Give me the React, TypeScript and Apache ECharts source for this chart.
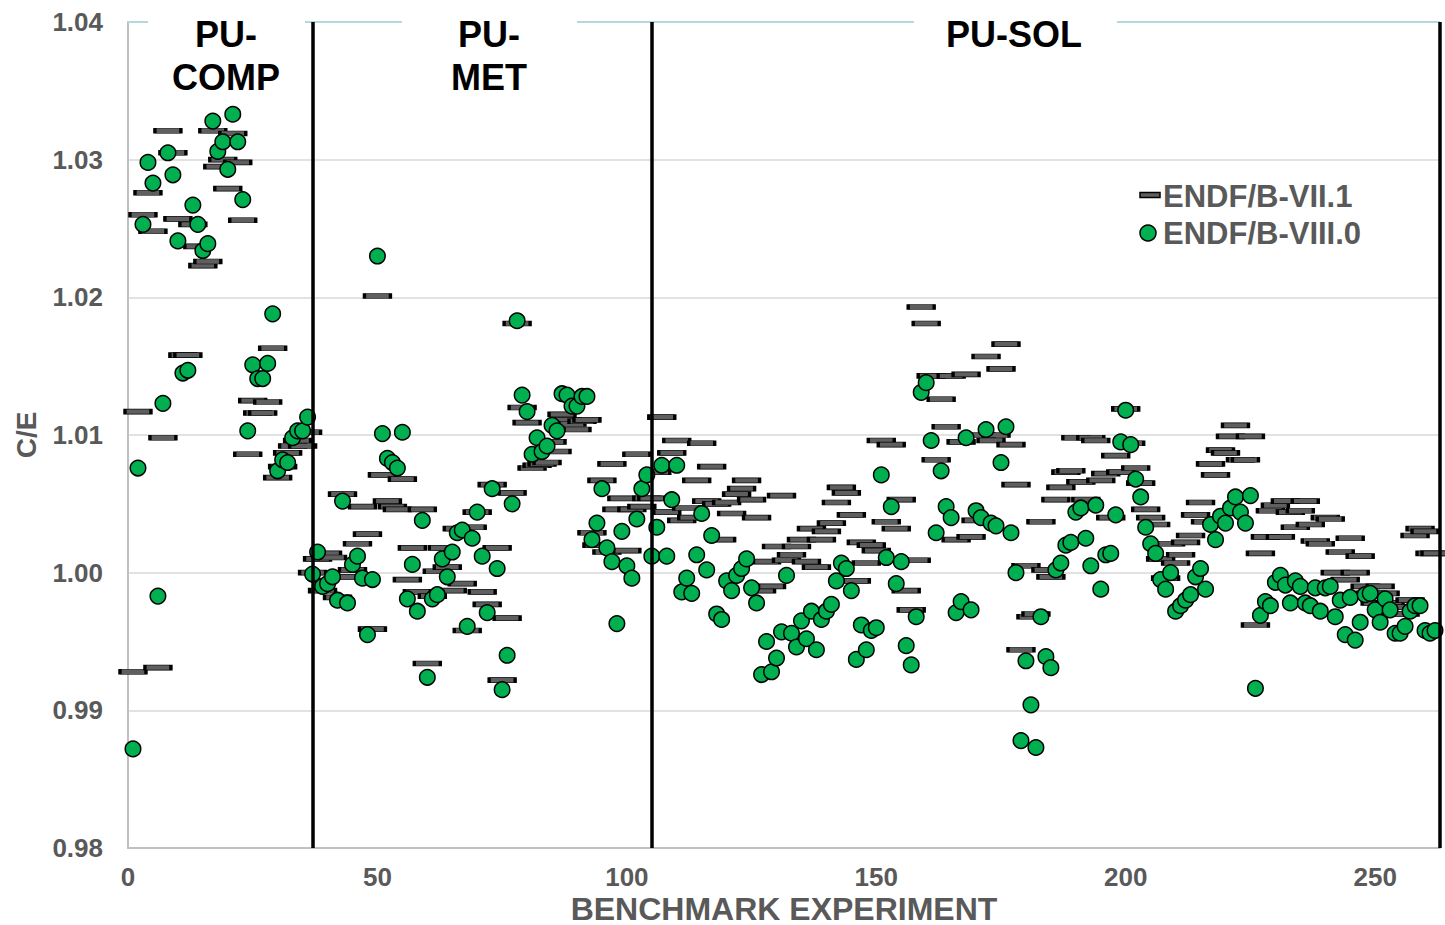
import React, { useEffect, useRef } from "react";
import * as echarts from "echarts";

// C/E values, benchmark experiments 1..262
const endf71: number[] = [
  0.9928, 1.0117, 1.0260, 1.0276, 1.0248, 0.9931, 1.0098, 1.0321, 1.0305, 1.0257,
  1.0158, 1.0158, 1.0253, 1.0237, 1.0223, 1.0226, 1.0321, 1.0295, 1.0300, 1.0279,
  1.0319, 1.0298, 1.0256, 1.0086, 1.0125, 1.0116, 1.0116, 1.0124, 1.0163, 1.0069,
  1.0077, 1.0087, 1.0092, 1.0096, 1.0092, 1.0102, 1.0000, 1.0010, 0.9987, 1.0014,
  1.0011, 0.9982, 1.0057, 0.9997, 1.0002, 1.0021, 1.0048, 1.0028, 0.9959, 1.0201,
  1.0071, 1.0052, 1.0048, 1.0046, 1.0068, 0.9995, 1.0018, 0.9986, 1.0046, 0.9934,
  0.9983, 1.0001, 1.0018, 1.0004, 0.9987, 1.0032, 0.9992, 0.9958, 1.0033, 1.0044,
  0.9986, 0.9977, 1.0064, 1.0018, 0.9922, 0.9967, 1.0058, 1.0181, 1.0120, 1.0109,
  1.0076, 1.0078, 1.0079, 1.0080, 1.0095, 1.0088, 1.0115, 1.0111, 1.0108, 1.0104,
  1.0110, 1.0111, 1.0029, 1.0020, 1.0067, 1.0015, 1.0079, 1.0046, 1.0054, 1.0016,
  1.0046, 1.0086, 1.0048, 1.0054, 1.0054, 1.0073, 1.0113, 1.0044, 1.0087, 1.0096,
  1.0038, 1.0047, 1.0040, 1.0067, 1.0094, 1.0052, 1.0077, 1.0050, 1.0024, 1.0051,
  1.0043, 1.0057, 1.0061, 1.0067, 1.0053, 1.0040, 0.9987, 1.0008, 0.9990, 1.0019,
  1.0056, 1.0009, 1.0013, 1.0019, 1.0024, 1.0008, 1.0032, 1.0004, 1.0024, 1.0030,
  1.0036, 1.0051, 1.0062, 1.0058, 1.0042, 0.9994, 1.0022, 1.0007, 1.0020, 1.0016,
  1.0096, 1.0037, 1.0093, 1.0032, 1.0053, 0.9987, 0.9973, 1.0009, 1.0193, 1.0181,
  1.0143, 1.0082, 1.0126, 1.0106, 1.0143, 1.0024, 1.0095, 1.0144, 1.0026, 1.0038,
  1.0100, 1.0157, 1.0096, 1.0100, 1.0148, 1.0166, 1.0093, 1.0064, 0.9944, 1.0005,
  0.9968, 0.9970, 1.0037, 1.0002, 0.9997, 1.0053, 1.0062, 1.0073, 1.0074, 1.0098,
  1.0066, 1.0053, 1.0098, 1.0096, 1.0067, 1.0072, 1.0040, 1.0085, 1.0073, 1.0119,
  1.0094, 1.0076, 1.0065, 1.0046, 1.0040, 1.0035, 1.0010, 0.9996, 1.0021, 1.0007,
  1.0013, 1.0022, 1.0027, 1.0042, 1.0051, 1.0037, 1.0079, 1.0071, 1.0089, 1.0087,
  1.0099, 1.0107, 1.0082, 1.0082, 1.0099, 0.9962, 1.0014, 1.0026, 1.0045, 1.0049,
  1.0026, 1.0052, 1.0044, 1.0033, 1.0045, 1.0052, 1.0035, 1.0023, 1.0021, 1.0040,
  1.0039, 1.0000, 1.0015, 0.9995, 1.0025, 1.0000, 1.0012, 0.9990, 0.9985, 0.9978,
  0.9990, 0.9985, 0.9978, 0.9970, 0.9975, 0.9970, 0.9980, 1.0027, 1.0032, 1.0030,
  1.0014, 1.0014,
];

const endf80: number[] = [
  0.9872, 1.0076, 1.0253, 1.0298, 1.0283, 0.9983, 1.0123, 1.0305, 1.0289, 1.0241,
  1.0145, 1.0147, 1.0267, 1.0253, 1.0234, 1.0239, 1.0328, 1.0306, 1.0313, 1.0293,
  1.0333, 1.0313, 1.0271, 1.0103, 1.0151, 1.0141, 1.0141, 1.0152, 1.0188, 1.0074,
  1.0082, 1.0080, 1.0098, 1.0103, 1.0103, 1.0113, 0.9999, 1.0015, 0.9990, 0.9992,
  0.9997, 0.9980, 1.0052, 0.9978, 1.0006, 1.0012, 0.9996, 0.9955, 0.9995, 1.0230,
  1.0101, 1.0083, 1.0080, 1.0076, 1.0102, 0.9981, 1.0006, 0.9972, 1.0038, 0.9924,
  0.9981, 0.9984, 1.0010, 0.9997, 1.0015, 1.0029, 1.0031, 0.9961, 1.0025, 1.0044,
  1.0012, 0.9971, 1.0061, 1.0003, 0.9915, 0.9940, 1.0050, 1.0183, 1.0129, 1.0117,
  1.0086, 1.0098, 1.0088, 1.0092, 1.0107, 1.0103, 1.0130, 1.0129, 1.0121, 1.0121,
  1.0128, 1.0128, 1.0024, 1.0036, 1.0061, 1.0018, 1.0008, 0.9963, 1.0030, 1.0005,
  0.9996, 1.0039, 1.0061, 1.0071, 1.0012, 1.0033, 1.0078, 1.0012, 1.0053, 1.0078,
  0.9986, 0.9996, 0.9985, 1.0013, 1.0043, 1.0002, 1.0027, 0.9970, 0.9966, 0.9994,
  0.9987, 0.9998, 1.0003, 1.0010, 0.9989, 0.9978, 0.9926, 0.9950, 0.9928, 0.9938,
  0.9957, 0.9998, 0.9956, 0.9946, 0.9965, 0.9952, 0.9972, 0.9944, 0.9966, 0.9972,
  0.9977, 0.9994, 1.0007, 1.0003, 0.9987, 0.9937, 0.9962, 0.9944, 0.9958, 0.9960,
  1.0071, 1.0011, 1.0048, 0.9992, 1.0008, 0.9947, 0.9933, 0.9968, 1.0131, 1.0138,
  1.0096, 1.0029, 1.0074, 1.0048, 1.0040, 0.9971, 0.9979, 1.0098, 0.9973, 1.0045,
  1.0040, 1.0104, 1.0036, 1.0034, 1.0080, 1.0106, 1.0029, 1.0000, 0.9878, 0.9936,
  0.9904, 0.9873, 0.9968, 0.9939, 0.9931, 1.0002, 1.0007, 1.0020, 1.0022, 1.0044,
  1.0047, 1.0025, 1.0005, 1.0049, 0.9988, 1.0013, 1.0014, 1.0042, 1.0095, 1.0118,
  1.0093, 1.0068, 1.0055, 1.0033, 1.0021, 1.0014, 0.9995, 0.9988, 1.0000, 0.9972,
  0.9976, 0.9980, 0.9984, 0.9997, 1.0003, 0.9988, 1.0035, 1.0024, 1.0041, 1.0036,
  1.0047, 1.0055, 1.0044, 1.0036, 1.0056, 0.9916, 0.9969, 0.9979, 0.9976, 0.9993,
  0.9998, 0.9991, 0.9978, 0.9994, 0.9990, 0.9978, 0.9976, 0.9989, 0.9972, 0.9989,
  0.9990, 0.9968, 0.9980, 0.9955, 0.9982, 0.9951, 0.9964, 0.9984, 0.9985, 0.9973,
  0.9964, 0.9981, 0.9973, 0.9956, 0.9956, 0.9961, 0.9972, 0.9976, 0.9976, 0.9958,
  0.9956, 0.9958,
];

const seriesNames = ["ENDF/B-VII.1", "ENDF/B-VIII.0"];
const regionBounds = [37, 105, 263];
const regionLabels = ["PU-\nCOMP", "PU-\nMET", "PU-SOL"];
const xTicks = [0, 50, 100, 150, 200, 250];
const yTicks = [0.98, 0.99, 1.0, 1.01, 1.02, 1.03, 1.04];

const FONT = '"Liberation Sans", Arial, sans-serif';
const GRAY = "#595959";

export default function App() {
  const ref = useRef<HTMLDivElement>(null);

  useEffect(() => {
    if (!ref.current) return;
    const chart = echarts.init(ref.current, undefined, { renderer: "svg" });

    const d71 = endf71.map((v, i) => [i + 1, v]);
    const d80 = endf80.map((v, i) => [i + 1, v]);

    const topSegments: [number, number][] = [
      [128, 148],
      [305, 402],
      [577, 914],
      [1117, 1440],
    ];
    const labelCenters = [226, 489, 1014];

    const graphic: any[] = [];
    topSegments.forEach(([a, b]) =>
      graphic.push({
        type: "line",
        shape: { x1: a, y1: 22, x2: b, y2: 22 },
        style: { stroke: "#b5d8dd", lineWidth: 2 },
        silent: true,
        z: 1,
      })
    );
    regionLabels.forEach((t, i) =>
      graphic.push({
        type: "text",
        x: labelCenters[i],
        y: 13,
        style: {
          text: t,
          font: `bold 36px ${FONT}`,
          lineHeight: 43,
          fill: "#000",
          textAlign: "center",
          textVerticalAlign: "top",
        },
        z: 10,
      })
    );
    // legend
    graphic.push(
      {
        type: "rect",
        shape: { x: 1140, y: 192.5, width: 20, height: 5 },
        style: { fill: "#5f5f5f", stroke: "#000", lineWidth: 1.5 },
        z: 10,
      },
      {
        type: "text",
        x: 1163,
        y: 196,
        style: {
          text: seriesNames[0],
          font: `bold 31px ${FONT}`,
          fill: GRAY,
          textVerticalAlign: "middle",
        },
        z: 10,
      },
      {
        type: "circle",
        shape: { cx: 1148, cy: 233, r: 8 },
        style: { fill: "#00b050", stroke: "#000", lineWidth: 1.5 },
        z: 10,
      },
      {
        type: "text",
        x: 1163,
        y: 233,
        style: {
          text: seriesNames[1],
          font: `bold 31px ${FONT}`,
          fill: GRAY,
          textVerticalAlign: "middle",
        },
        z: 10,
      }
    );

    chart.setOption({
      animation: false,
      backgroundColor: "#fff",
      grid: {
        left: 128,
        right: 5,
        top: 22,
        bottom: 77,
        containLabel: false,
        outerBoundsMode: "none",
      },
      xAxis: {
        type: "value",
        min: 0,
        max: regionBounds[regionBounds.length - 1],
        interval: 50,
        name: "BENCHMARK EXPERIMENT",
        nameLocation: "middle",
        nameGap: 47,
        nameMoveOverlap: false,
        nameTextStyle: {
          fontFamily: FONT,
          fontWeight: "bold",
          fontSize: 32,
          lineHeight: 28,
          color: GRAY,
        },
        axisLine: { show: true, lineStyle: { color: "#c0c0c0", width: 2 } },
        axisTick: { show: false },
        splitLine: { show: false },
        axisLabel: {
          margin: 16,
          fontFamily: FONT,
          fontWeight: "bold",
          fontSize: 26,
          lineHeight: 26,
          color: GRAY,
          formatter: (v: number) => (xTicks.includes(v) ? String(v) : ""),
        },
      },
      yAxis: {
        type: "value",
        min: yTicks[0],
        max: yTicks[yTicks.length - 1],
        interval: 0.01,
        name: "C/E",
        nameLocation: "middle",
        nameGap: 88,
        nameMoveOverlap: false,
        nameTextStyle: { fontFamily: FONT, fontWeight: "bold", fontSize: 28, color: GRAY },
        axisLine: { show: true, lineStyle: { color: "#c0c0c0", width: 2 } },
        axisTick: { show: false },
        splitLine: { show: true, showMaxLine: false, lineStyle: { color: "#d9d9d9", width: 1.5 } },
        axisLabel: {
          margin: 25,
          fontFamily: FONT,
          fontWeight: "bold",
          fontSize: 26,
          color: GRAY,
          formatter: (v: number) => v.toFixed(2),
        },
      },
      graphic,
      series: [
        {
          name: seriesNames[0],
          type: "scatter",
          data: d71,
          symbol: "rect",
          symbolSize: [26, 5],
          itemStyle: { color: "#5f5f5f", borderColor: "#000", borderWidth: 1.5, opacity: 1 },
          z: 3,
          markLine: {
            silent: true,
            symbol: ["none", "none"],
            label: { show: false },
            lineStyle: { color: "#000", width: 3.5, type: "solid" },
            data: regionBounds.map((b) => ({ xAxis: b })),
          },
        },
        {
          name: seriesNames[1],
          type: "scatter",
          data: d80,
          symbol: "circle",
          symbolSize: 15.5,
          itemStyle: { color: "#00b050", borderColor: "#000", borderWidth: 1.5, opacity: 1 },
          z: 4,
        },
      ],
    });

    return () => chart.dispose();
  }, []);

  return (
    <div
      ref={ref}
      style={{ position: "fixed", left: 0, top: 0, width: 1445, height: 925, background: "#fff" }}
    />
  );
}
